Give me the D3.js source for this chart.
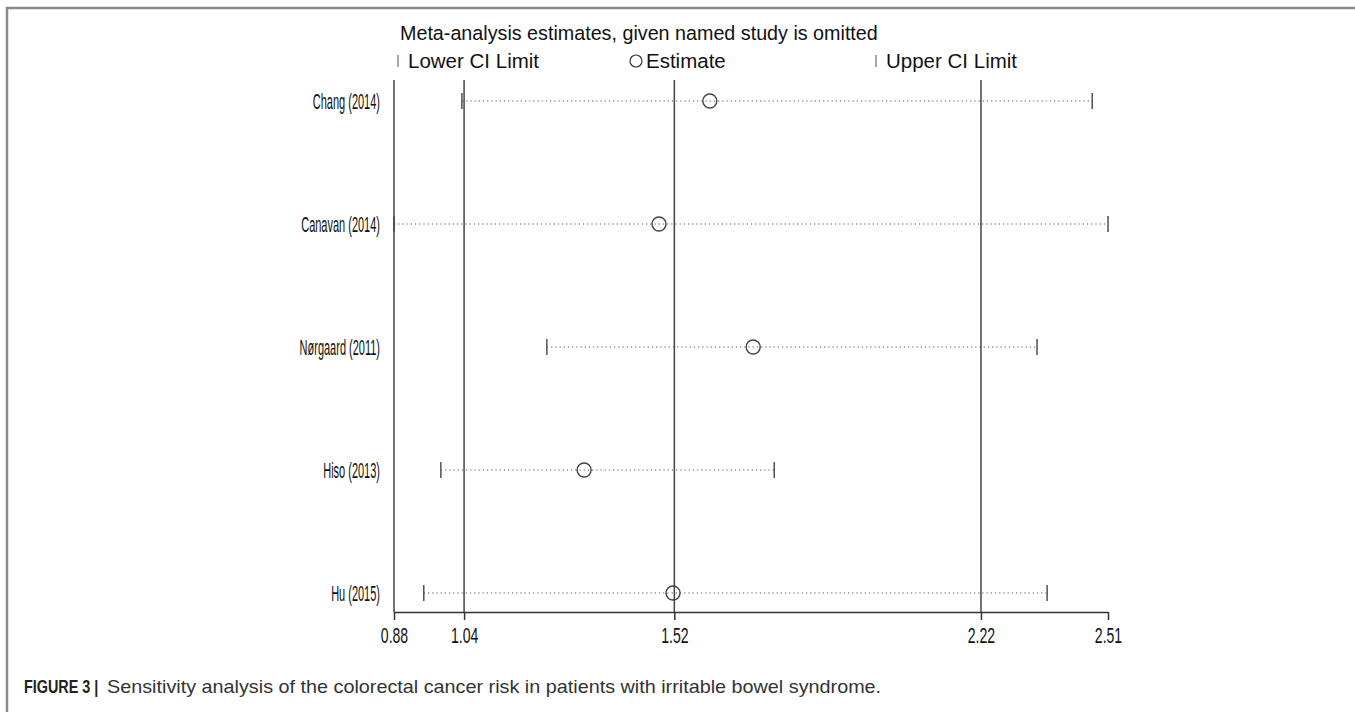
<!DOCTYPE html>
<html>
<head>
<meta charset="utf-8">
<script src="https://cdn.jsdelivr.net/npm/d3@7"></script>
<style>
  body { margin: 0; background: #fff; }
  svg { display: block; font-family: Arial, "Liberation Sans", Helvetica, sans-serif; }
</style>
</head>
<body>
<svg width="1355" height="712"></svg>
<script>
// studies omitted, one row each
const studies = ["Chang (2014)", "Canavan (2014)", "Nørgaard (2011)", "Hiso (2013)", "Hu (2015)"];
const lower = [1.035, 0.88, 1.229, 0.987, 0.948];
const estimate = [1.601, 1.485, 1.700, 1.314, 1.517];
const upper = [2.474, 2.51, 2.348, 1.748, 2.371];
const tickVals = [0.88, 1.04, 1.52, 2.22, 2.51];
const refLines = [1.04, 1.52, 2.22];

const svg = d3.select("svg");

const x = d3.scaleLinear().domain([0.88, 2.51]).range([394, 1108]);
const y = d3.scalePoint().domain(studies).range([101, 593]);
const plotTop = 80, axisY = 612;

// outer frame (top + left)
svg.append("path")
  .attr("d", "M7,712V8H1355")
  .attr("fill", "none")
  .attr("stroke", "#8a8a8a")
  .attr("stroke-width", 2.5);

// title + legend
svg.append("text")
  .attr("x", 400).attr("y", 40)
  .attr("font-size", 20.5)
  .attr("fill", "#111")
  .attr("transform", "translate(400,0) scale(0.962,1) translate(-400,0)")
  .text("Meta-analysis estimates, given named study is omitted");

const legend = [
  { x: 398, kind: "bar", label: "Lower CI Limit", tx: 408 },
  { x: 636, kind: "circle", label: "Estimate", tx: 646 },
  { x: 876, kind: "bar", label: "Upper CI Limit", tx: 886 }
];
const lg = svg.append("g");
legend.forEach(d => {
  if (d.kind === "bar") {
    lg.append("line").attr("x1", d.x).attr("x2", d.x).attr("y1", 55).attr("y2", 67)
      .attr("stroke", "#777").attr("stroke-width", 1.3);
  } else {
    lg.append("circle").attr("cx", d.x).attr("cy", 61).attr("r", 6)
      .attr("fill", "none").attr("stroke", "#333").attr("stroke-width", 1.2);
  }
  lg.append("text").attr("x", d.tx).attr("y", 68)
    .attr("font-size", 20.5).attr("fill", "#111")
    .text(d.label);
});

// left axis line
svg.append("line")
  .attr("x1", x(0.88)).attr("x2", x(0.88))
  .attr("y1", plotTop).attr("y2", axisY)
  .attr("stroke", "#444").attr("stroke-width", 1.5);

// reference lines at pooled estimate and CI
svg.selectAll(".ref").data(refLines).enter().append("line")
  .attr("class", "ref")
  .attr("x1", d => x(d)).attr("x2", d => x(d))
  .attr("y1", plotTop).attr("y2", axisY)
  .attr("stroke", "#444").attr("stroke-width", 1.5);

// bottom axis
const axis = d3.axisBottom(x)
  .tickValues(tickVals)
  .tickFormat(d3.format(".2f"))
  .tickSize(8)
  .tickSizeOuter(0);
const ax = svg.append("g")
  .attr("transform", `translate(0,${axisY})`)
  .call(axis);
ax.select(".domain").attr("stroke", "#333").attr("stroke-width", 1.5);
ax.selectAll(".tick line").attr("stroke", "#333").attr("stroke-width", 1.5);
ax.selectAll(".tick text")
  .attr("font-size", 22)
  .attr("font-family", "Arial, 'Liberation Sans', sans-serif")
  .attr("fill", "#111")
  .attr("y", 15)
  .attr("transform", "scale(0.64,1)");

// rows
const rows = svg.selectAll(".row").data(studies).enter().append("g")
  .attr("class", "row")
  .attr("transform", d => `translate(0,${y(d)})`);

rows.append("line")
  .attr("x1", (d, i) => x(lower[i])).attr("x2", (d, i) => x(upper[i]))
  .attr("stroke", "#555").attr("stroke-width", 1.2)
  .attr("stroke-dasharray", "1.2,3");

rows.append("line")
  .attr("x1", (d, i) => x(lower[i])).attr("x2", (d, i) => x(lower[i]))
  .attr("y1", -8).attr("y2", 8)
  .attr("stroke", "#444").attr("stroke-width", 1.4);

rows.append("line")
  .attr("x1", (d, i) => x(upper[i])).attr("x2", (d, i) => x(upper[i]))
  .attr("y1", -8).attr("y2", 8)
  .attr("stroke", "#444").attr("stroke-width", 1.4);

rows.append("circle")
  .attr("cx", (d, i) => x(estimate[i]))
  .attr("r", 7)
  .attr("fill", "none")
  .attr("stroke", "#444").attr("stroke-width", 1.4);

rows.append("text")
  .attr("transform", "translate(380,8) scale(0.5,1)")
  .attr("text-anchor", "end")
  .attr("font-size", 22)
  .attr("fill", "#111")
  .text(d => d);

// caption
svg.append("text")
  .attr("transform", "translate(24,693) scale(0.8,1)")
  .attr("font-size", 18).attr("font-weight", "bold").attr("fill", "#222")
  .text("FIGURE 3 |");
svg.append("text")
  .attr("transform", "translate(107,693) scale(1.1,1)")
  .attr("font-size", 18).attr("fill", "#333")
  .text("Sensitivity analysis of the colorectal cancer risk in patients with irritable bowel syndrome.");
</script>
</body>
</html>
